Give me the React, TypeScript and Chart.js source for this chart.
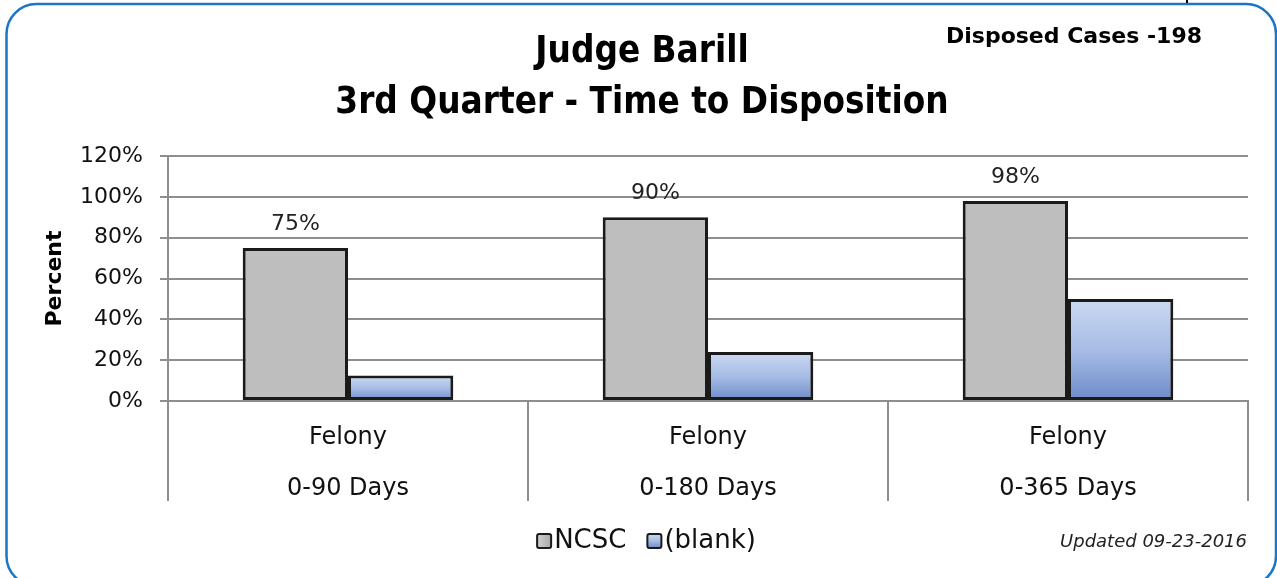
import { useEffect, useRef } from "react";
import { Chart, registerables } from "chart.js";

Chart.register(...registerables);

const categories = [
  ["Felony", "0-90 Days"],
  ["Felony", "0-180 Days"],
  ["Felony", "0-365 Days"],
];
const seriesNames = ["NCSC", "(blank)"];
const ncscValues = [75, 90, 98];
const blankValues = [12.5, 24, 50];
const yTicks = [0, 20, 40, 60, 80, 100, 120];
const titleLines = ["Judge Barill", "3rd Quarter - Time to Disposition"];
const casesNote = "Disposed Cases -198";
const updatedNote = "Updated 09-23-2016";
const yAxisTitle = "Percent";

const BASE_FONT = "'DejaVu Sans', sans-serif";
const TITLE_FONT = "'DejaVu Sans Condensed', 'DejaVu Sans', sans-serif";
const GRID = "#8e8e8e";
const GRAY = "#bebebe";
const BLUE = "#9db3e0";
const EDGE = "#1a1a1a";

function blueGradient(ctx: CanvasRenderingContext2D, top: number, bottom: number) {
  const g = ctx.createLinearGradient(0, top, 0, bottom);
  g.addColorStop(0, "#cbd9f2");
  g.addColorStop(0.5, "#a7bce6");
  g.addColorStop(1, "#6c8bc9");
  return g;
}

const frameAndNotes = {
  id: "frameAndNotes",
  beforeDraw(chart: any) {
    const ctx = chart.ctx;
    ctx.save();
    ctx.fillStyle = "#ffffff";
    ctx.fillRect(0, 0, chart.width, chart.height);
    ctx.strokeStyle = "#1976c8";
    ctx.lineWidth = 2.5;
    ctx.beginPath();
    (ctx as any).roundRect(6.5, 4, 1269.5, 582, 30);
    ctx.stroke();
    ctx.strokeStyle = "#000";
    ctx.lineWidth = 2;
    ctx.beginPath();
    ctx.moveTo(1187, 0);
    ctx.lineTo(1187, 3);
    ctx.stroke();
    ctx.restore();
  },
  afterDraw(chart: any) {
    const ctx = chart.ctx;
    ctx.save();
    ctx.fillStyle = "#000";
    ctx.textBaseline = "middle";
    ctx.textAlign = "center";
    ctx.font = `bold 22px ${BASE_FONT}`;
    ctx.fillText(casesNote, 1074, 37);
    ctx.textAlign = "right";
    ctx.font = `italic 18px ${BASE_FONT}`;
    ctx.fillStyle = "#222";
    ctx.fillText(updatedNote, 1247, 542);

    // legend
    ctx.font = `26px ${BASE_FONT}`;
    const box = 14;
    const gap = 2;
    const spacing = 22;
    const items = chart.data.datasets.map((d: any, i: number) => ({
      text: d.label,
      w: box + gap + ctx.measureText(d.label).width,
      i,
    }));
    const total = items.reduce((a: number, it: any) => a + it.w, 0) + spacing * (items.length - 1);
    let x = 646 - total / 2;
    const cy = 541;
    items.forEach((it: any) => {
      const bx = x;
      const by = cy - box / 2;
      let fill: any;
      if (it.i === 1) fill = blueGradient(ctx, by, by + box);
      else {
        const g = ctx.createLinearGradient(bx, 0, bx + box, 0);
        g.addColorStop(0, "#d0d0d0");
        g.addColorStop(1, "#a9a9a9");
        fill = g;
      }
      ctx.fillStyle = fill;
      ctx.strokeStyle = EDGE;
      ctx.lineWidth = 2;
      ctx.beginPath();
      (ctx as any).roundRect(bx, by, box, box, 2);
      ctx.fill();
      ctx.stroke();
      ctx.fillStyle = "#111";
      ctx.textAlign = "left";
      ctx.textBaseline = "middle";
      ctx.fillText(it.text, bx + box + gap + 1, cy);
      x += it.w + spacing;
    });
    ctx.restore();
  },
  afterDatasetsDraw(chart: any) {
    const ctx = chart.ctx;
    const meta = chart.getDatasetMeta(0);
    ctx.save();
    ctx.fillStyle = "#222";
    ctx.font = `22px ${BASE_FONT}`;
    ctx.textAlign = "center";
    ctx.textBaseline = "middle";
    meta.data.forEach((bar: any, i: number) => {
      ctx.fillText(`${ncscValues[i]}%`, bar.x, bar.y - 24);
    });
    ctx.restore();
  },
};

function blueFill(context: any) {
  const chart = context.chart;
  const yScale = chart.scales?.y;
  if (!yScale || context.dataIndex === undefined || !chart.chartArea) return BLUE;
  const v = blankValues[context.dataIndex];
  return blueGradient(chart.ctx, yScale.getPixelForValue(v), yScale.getPixelForValue(0));
}

export default function App() {
  const ref = useRef<HTMLCanvasElement | null>(null);

  useEffect(() => {
    document.body.style.margin = "0";
    if (!ref.current) return;
    const chart = new Chart(ref.current, {
      type: "bar",
      data: {
        labels: categories,
        datasets: [
          {
            label: seriesNames[0],
            data: ncscValues,
            backgroundColor: GRAY,
            borderColor: EDGE,
            borderWidth: 3,
            borderSkipped: false,
          },
          {
            label: seriesNames[1],
            data: blankValues,
            backgroundColor: blueFill,
            borderColor: EDGE,
            borderWidth: 3,
            borderSkipped: false,
          },
        ],
      },
      options: {
        animation: false,
        responsive: false,
        maintainAspectRatio: false,
        devicePixelRatio: 1,
        datasets: { bar: { categoryPercentage: 0.585, barPercentage: 1 } },
        layout: { padding: { top: 27, left: 36, right: 29, bottom: 58 } },
        plugins: {
          title: {
            display: true,
            text: titleLines,
            color: "#000",
            font: { family: TITLE_FONT, size: 36.5, weight: "bold", lineHeight: 51 / 36.5 },
            padding: { top: 0, bottom: 27 },
          },
          legend: { display: false },
          tooltip: { enabled: false },
        },
        scales: {
          x: {
            type: "category",
            offset: true,
            grid: {
              offset: true,
              drawOnChartArea: false,
              drawTicks: true,
              tickLength: 100,
              color: GRID,
              lineWidth: 2,
            },
            border: { display: true, color: GRID, width: 2 },
            ticks: {
              color: "#111",
              font: { family: BASE_FONT, size: 24, lineHeight: 51 / 24 },
              padding: -88.5,
              maxRotation: 0,
              autoSkip: false,
            },
            afterFit: (s: any) => {
              s.height = 119;
            },
          },
          y: {
            min: 0,
            max: 120,
            afterBuildTicks: (s: any) => {
              s.ticks = yTicks.map((v) => ({ value: v }));
            },
            grid: { color: GRID, lineWidth: 2, tickLength: 8, drawTicks: true },
            border: { display: true, color: GRID, width: 2 },
            ticks: {
              color: "#111",
              font: { family: BASE_FONT, size: 22 },
              padding: 17,
              callback: (v: any) => `${v}%`,
            },
            title: {
              display: true,
              text: yAxisTitle,
              color: "#000",
              font: { family: BASE_FONT, size: 22, weight: "bold" },
              padding: { top: 6, bottom: 0 },
            },
            afterFit: (s: any) => {
              s.width = 132;
            },
          },
        },
      },
      plugins: [frameAndNotes],
    } as any);
    return () => chart.destroy();
  }, []);

  return (
    <div style={{ width: 1277, height: 578, position: "relative" }}>
      <canvas ref={ref} width={1277} height={578} style={{ width: 1277, height: 578, display: "block" }} />
    </div>
  );
}
